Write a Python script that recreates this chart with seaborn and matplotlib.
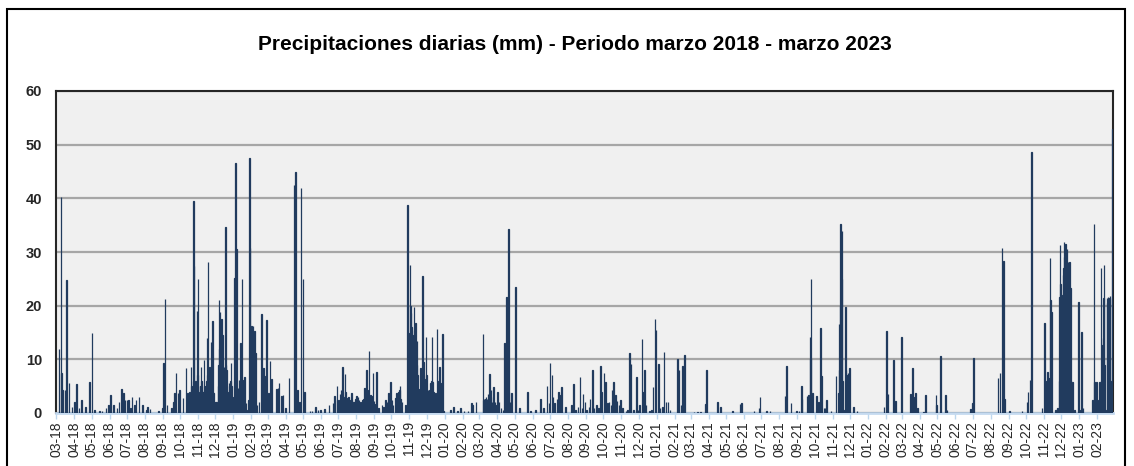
#Precipitaciones diarias, marzo 2018 - marzo 2023
import numpy as np
import pandas as pd
import matplotlib.pyplot as plt
import seaborn as sns

#dia = dias desde el 01-03-2018, mm = lluvia del dia (los dias que no estan son 0)
lluvia_2018 = [(5, 11.9), (8, 40.2), (9, 7.4), (11, 4.3), (15, 4.3), (18, 24.7), (22, 5.5), (27, 1.2), (31, 2.1),
               (35, 5.4), (39, 0.9), (44, 2.5), (50, 1.2), (57, 5.8), (62, 15.0), (66, 0.6), (75, 0.3), (79, 0.3),
               (86, 0.9), (90, 1.5), (94, 3.4), (99, 1.5), (105, 0.9), (108, 2.1), (113, 4.4), (116, 3.7), (119, 2.4),
               (122, 2.4), (125, 2.4), (128, 0.9), (131, 3.0), (135, 1.5), (138, 2.4), (143, 2.9), (149, 1.5),
               (156, 0.6), (158, 1.2), (162, 0.7), (177, 0.3), (183, 0.9), (185, 9.3), (188, 21.2), (191, 1.5),
               (199, 0.9), (202, 2.1), (204, 3.7), (207, 7.4), (210, 3.7), (213, 4.3), (219, 2.8), (224, 8.3),
               (227, 3.7), (230, 4.0), (233, 8.6), (234, 5.0), (235, 4.0), (236, 6.0), (237, 39.5), (238, 27.4),
               (239, 5.0), (240, 6.0), (241, 3.7), (243, 19.0), (244, 7.0), (245, 24.9), (246, 4.0), (247, 2.4),
               (248, 5.0), (249, 5.0), (250, 8.6), (251, 6.0), (252, 2.1), (253, 4.0), (254, 4.0), (255, 9.9),
               (256, 5.0), (257, 5.0), (258, 2.4), (259, 6.0), (260, 14.0), (261, 7.0), (262, 28.2), (263, 5.0),
               (264, 5.0), (265, 8.6), (266, 6.0), (267, 13.3), (268, 7.0), (269, 8.0), (270, 17.1), (271, 4.0),
               (272, 3.7), (274, 2.1), (275, 2.0), (276, 2.0), (277, 2.0), (278, 0.9), (279, 5.0), (280, 9.0),
               (281, 21.0), (282, 12.0), (283, 18.9), (284, 16.0), (285, 17.6), (286, 10.0), (287, 14.5), (288, 5.0),
               (289, 5.0), (290, 8.6), (291, 6.0), (292, 34.7), (293, 9.0), (294, 8.1), (295, 3.0), (296, 3.0),
               (297, 4.0), (298, 5.5), (299, 5.0), (300, 4.0), (301, 6.0), (302, 9.4), (303, 5.0), (304, 3.0), (305, 1.0)]

lluvia_2019 = [(306, 0.6), (308, 25.1), (310, 46.6), (311, 30.6), (314, 4.6), (316, 6.1), (318, 13.0), (321, 24.9),
               (323, 6.1), (325, 6.8), (328, 1.8), (330, 0.6), (332, 2.4), (334, 47.5), (335, 30.8), (337, 16.2),
               (340, 16.2), (342, 15.3), (344, 11.2), (347, 1.5), (350, 2.1), (355, 18.4), (358, 8.3), (360, 6.9),
               (363, 17.3), (365, 2.4), (367, 3.7), (369, 9.6), (372, 6.3), (380, 4.4), (383, 4.6), (385, 5.5),
               (389, 3.2), (392, 3.4), (396, 0.9), (402, 6.5), (411, 42.5), (413, 45.0), (417, 4.3), (420, 2.1),
               (423, 41.9), (426, 24.9), (429, 4.0), (438, 0.3), (442, 0.3), (448, 1.2), (452, 0.6), (456, 0.6),
               (463, 0.7), (471, 1.5), (478, 1.8), (481, 3.2), (485, 5.0), (486, 2.5), (489, 2.4), (490, 3.5),
               (492, 4.3), (493, 1.8), (494, 8.5), (496, 3.0), (497, 2.2), (499, 7.2), (500, 4.0), (502, 2.1),
               (503, 2.8), (505, 3.0), (506, 1.9), (508, 2.4), (510, 3.8), (511, 2.5), (513, 2.1), (515, 2.0),
               (517, 2.7), (519, 3.1), (521, 2.9), (523, 2.4), (526, 2.1), (527, 1.8), (529, 2.4), (531, 2.6),
               (532, 4.6), (534, 3.5), (536, 8.1), (538, 4.2), (540, 11.6), (541, 2.9), (543, 3.4), (545, 3.1),
               (547, 7.5), (549, 2.3), (551, 1.7), (553, 7.7), (557, 0.9), (563, 1.5), (565, 1.2), (569, 2.4),
               (571, 2.0), (574, 3.8), (575, 2.6), (577, 5.8), (580, 2.4), (582, 1.5), (586, 2.8), (588, 3.7),
               (590, 3.0), (591, 3.9), (593, 4.2), (594, 5.0), (595, 2.6), (597, 2.1), (603, 1.5), (607, 38.7),
               (608, 12.0), (609, 0.6), (610, 15.0), (611, 27.5), (612, 20.0), (613, 18.6), (614, 16.0), (615, 14.5),
               (616, 12.5), (617, 13.8), (618, 19.8), (619, 15.5), (620, 12.0), (621, 16.7), (622, 9.0), (623, 13.5),
               (624, 7.0), (626, 2.4), (627, 4.5), (629, 8.3), (630, 5.0), (632, 6.0), (633, 25.5), (634, 9.5),
               (635, 6.2), (636, 5.0), (638, 6.4), (639, 14.2), (640, 7.0), (642, 4.3), (643, 3.2), (645, 4.3),
               (646, 5.5), (648, 6.0), (649, 14.1), (650, 5.8), (652, 4.0), (653, 2.6), (655, 3.7), (657, 2.2),
               (658, 15.7), (660, 6.0), (662, 8.6), (663, 4.0), (665, 5.5), (666, 3.1), (667, 14.8), (669, 0.3)]

lluvia_2020 = [(681, 0.6), (686, 1.2), (693, 0.3), (698, 0.9), (704, 0.3), (711, 0.3), (717, 1.8), (719, 1.5),
               (725, 2.1), (737, 14.7), (738, 2.5), (739, 2.7), (741, 2.7), (742, 3.0), (744, 2.7), (745, 2.2),
               (746, 3.5), (748, 7.2), (750, 3.0), (751, 4.3), (753, 2.0), (755, 4.9), (758, 2.1), (760, 1.5),
               (762, 4.0), (765, 2.1), (768, 0.9), (772, 0.6), (774, 13.1), (776, 8.0), (778, 21.6), (779, 12.0),
               (780, 5.0), (781, 34.2), (782, 4.0), (784, 2.0), (786, 3.8), (793, 23.4), (800, 0.9), (814, 3.9),
               (819, 0.3), (828, 0.6), (836, 2.7), (842, 0.9), (848, 5.0), (851, 1.8), (853, 9.4), (856, 7.1),
               (858, 2.9), (861, 1.9), (865, 2.7), (868, 3.9), (871, 3.4), (873, 4.8), (880, 1.2), (890, 1.5),
               (893, 5.4), (897, 0.6), (901, 1.2), (905, 6.8), (908, 0.9), (910, 3.5), (913, 2.1), (916, 0.6),
               (920, 1.2), (922, 2.7), (926, 8.1), (929, 0.9), (933, 1.5), (937, 0.9), (940, 8.8), (942, 4.0),
               (946, 7.5), (949, 5.8), (952, 1.9), (955, 2.1), (958, 1.5), (960, 4.2), (963, 5.8), (966, 3.4),
               (969, 2.3), (972, 1.5), (975, 2.4), (978, 0.9), (984, 0.3), (987, 0.6), (990, 11.1), (993, 9.1),
               (997, 0.6), (1002, 6.8), (1005, 0.6), (1008, 1.5), (1012, 13.7), (1014, 4.0), (1016, 8.1),
               (1019, 1.5), (1025, 0.3), (1028, 0.6), (1031, 4.9), (1034, 17.6), (1036, 15.5)]

lluvia_2021 = [(1040, 9.1), (1043, 0.9), (1047, 1.2), (1050, 11.4), (1053, 2.1), (1057, 2.1), (1060, 0.6),
               (1073, 10.1), (1076, 8.1), (1079, 1.5), (1082, 8.8), (1085, 10.9), (1102, 0.2), (1108, 0.2),
               (1113, 0.2), (1122, 1.7), (1123, 8.0), (1142, 2.1), (1147, 1.1), (1168, 0.4), (1181, 1.7),
               (1184, 1.8), (1205, 0.3), (1214, 0.9), (1216, 3.0), (1227, 0.3), (1233, 0.3), (1259, 3.2),
               (1261, 8.8), (1269, 1.9), (1279, 0.4), (1283, 0.3), (1287, 5.0), (1288, 2.7), (1297, 3.2),
               (1299, 3.4), (1300, 2.0), (1302, 14.2), (1303, 10.0), (1304, 25.0), (1306, 3.7), (1313, 3.2),
               (1315, 1.5), (1317, 2.1), (1320, 15.8), (1322, 6.9), (1326, 0.9), (1328, 0.9), (1331, 2.5),
               (1338, 0.3), (1347, 6.9), (1351, 3.7), (1352, 16.5), (1353, 8.0), (1354, 20.0), (1355, 35.2),
               (1356, 25.0), (1357, 34.0), (1358, 6.0), (1360, 0.6), (1363, 19.8), (1364, 8.0), (1365, 7.1),
               (1366, 5.0), (1367, 6.9), (1368, 7.5), (1369, 4.0), (1370, 8.3), (1377, 1.2), (1383, 0.3)]

lluvia_2022 = [(1430, 1.2), (1434, 15.2), (1437, 3.6), (1446, 9.8), (1450, 2.2), (1460, 14.1), (1476, 3.5),
               (1479, 8.3), (1481, 2.9), (1484, 3.7), (1488, 0.9), (1498, 0.1), (1502, 3.4), (1520, 3.4),
               (1521, 1.5), (1528, 10.7), (1536, 3.4), (1539, 0.6), (1579, 0.7), (1583, 1.8), (1585, 10.2),
               (1627, 6.5), (1630, 7.4), (1634, 30.7), (1636, 28.3), (1638, 2.7), (1647, 0.3), (1668, 0.4),
               (1677, 2.1), (1679, 4.0), (1682, 6.2), (1685, 48.7), (1703, 0.9), (1707, 16.7), (1708, 5.0),
               (1710, 4.6), (1711, 6.0), (1712, 7.7), (1713, 5.5), (1714, 6.5), (1716, 3.0), (1717, 28.8),
               (1718, 21.0), (1719, 18.9), (1726, 0.6), (1729, 0.7), (1730, 1.0), (1732, 6.0), (1733, 21.7),
               (1734, 31.3), (1735, 24.0), (1736, 20.5), (1737, 19.2), (1738, 22.0), (1739, 25.7), (1740, 27.0),
               (1741, 31.8), (1742, 29.0), (1743, 31.5), (1744, 26.5), (1745, 28.2), (1746, 30.5), (1747, 27.5),
               (1748, 28.2), (1749, 25.0), (1750, 28.2), (1751, 20.0), (1752, 23.2), (1753, 6.0), (1754, 1.8),
               (1756, 5.7), (1759, 0.6), (1766, 20.6)]

lluvia_2023 = [(1769, 0.6), (1771, 15.1), (1774, 0.9), (1790, 2.4), (1793, 35.3), (1794, 5.8), (1797, 5.8),
               (1800, 2.4), (1802, 5.8), (1805, 27.0), (1806, 6.0), (1807, 12.7), (1808, 14.0), (1809, 21.5),
               (1810, 27.6), (1811, 9.0), (1813, 0.6), (1815, 21.4), (1816, 20.5), (1817, 21.7), (1818, 21.0),
               (1819, 21.5), (1820, 21.8), (1821, 6.0), (1822, 3.0), (1823, 2.0), (1824, 4.0), (1825, 52.9)]

inicio = pd.Timestamp('2018-03-01')
n_dias = 1826

#serie diaria completa
mm = np.zeros(n_dias)
for lista in [lluvia_2018, lluvia_2019, lluvia_2020, lluvia_2021, lluvia_2022, lluvia_2023]:
    for d, v in lista:
        mm[d] = v
df = pd.DataFrame({'dia': np.arange(n_dias), 'mm': mm})

sns.set_theme(style='white')
plt.rcParams['font.family'] = ['Liberation Sans', 'DejaVu Sans']

fig = plt.figure(figsize=(11.34, 4.66), dpi=100)
ax = fig.add_axes([56/1134, 1-413/466, (1113-56)/1134, (413-91)/466])
ax.set_facecolor('#F0F0F0')

azul = '#213B5E'
sns.barplot(data=df, x='dia', y='mm', native_scale=True, width=1, color=azul, saturation=1,
            edgecolor=azul, linewidth=0.9, errorbar=None, ax=ax, zorder=3)

#eje y
ax.set_ylim(0, 60)
ax.set_yticks(range(0, 61, 10))
ax.set_yticklabels([str(v) for v in range(0, 61, 10)], fontsize=10.5, fontweight='bold')
ax.yaxis.grid(True, color='#A6A6A6', linewidth=1.6, zorder=0)
ax.set_axisbelow(True)

#eje x, un tick por mes
meses = pd.date_range(inicio, periods=60, freq='MS')
ax.set_xticks([(m - inicio).days for m in meses])
ax.set_xticklabels([m.strftime('%m-%y') for m in meses], rotation=90, fontsize=10)
ax.set_xlim(-0.5, n_dias - 0.5)
ax.tick_params(axis='x', length=4, color='#BDD7EE', width=1, pad=2, bottom=True)
ax.tick_params(axis='y', length=0, pad=10)
ax.set_xlabel('')
ax.set_ylabel('')

for lado in ['top', 'left', 'right']:
    ax.spines[lado].set_color('#262626')
    ax.spines[lado].set_linewidth(1.5)
ax.spines['bottom'].set_color('#C5DAF0')
ax.spines['bottom'].set_linewidth(2)

fig.text(0.507, 1-44/466, 'Precipitaciones diarias (mm) - Periodo marzo 2018 - marzo 2023',
         ha='center', va='center', fontsize=15, fontweight='bold', color='black')

#marco exterior
fig.add_artist(plt.Rectangle((7/1134, -0.05), (1125-7)/1134, 1.05 - 9/466, fill=False,
                             ec='black', lw=1.5, transform=fig.transFigure))

plt.savefig('out.png', dpi=100)
